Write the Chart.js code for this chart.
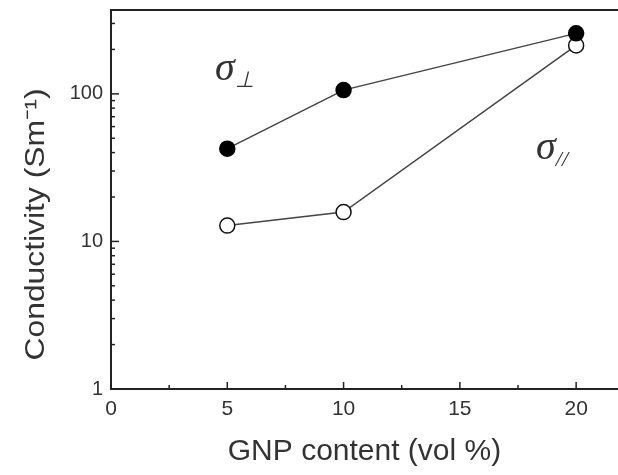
<!DOCTYPE html>
<html>
<head>
<meta charset="utf-8">
<script src="https://cdn.jsdelivr.net/npm/chart.js@4"></script>
<style>
  html, body { margin: 0; padding: 0; background: #fff; overflow: hidden; }
</style>
</head>
<body>
<canvas id="chart" width="618" height="475"></canvas>
<script>
// values
const gnpContent = [5, 10, 20];
const sigmaPerp = [42.5, 106, 257];   // filled circles
const sigmaPar = [12.8, 15.8, 213];   // open circles
const xTicks = [0, 5, 10, 15, 20];
const yTickLabels = [1, 10, 100];
const notes = [
  { x: 4.9, y: 138, main: 'σ', sub: '⊥' },
  { x: 18.7, y: 40, main: 'σ', sub: '//' }
];

const sans = '"Liberation Sans", Arial, sans-serif';
const ink = '#222';

// inward tick marks, top frame line, sigma labels and y title
const decorPlugin = {
  id: 'decor',
  afterDraw(chart) {
    const ctx = chart.ctx;
    const area = chart.chartArea;
    const xs = chart.scales.x;
    const ys = chart.scales.y;
    ctx.save();
    ctx.strokeStyle = ink;
    ctx.lineWidth = 2;
    ctx.beginPath();
    ctx.moveTo(area.left - 1, area.top);
    ctx.lineTo(area.right, area.top);
    ctx.stroke();

    ctx.lineWidth = 1.5;
    ys.ticks.forEach(t => {
      const v = t.value;
      const exp = Math.floor(Math.log10(v) + 1e-9);
      const sig = v / Math.pow(10, exp);
      if (Math.abs(sig - Math.round(sig)) > 1e-6) return;
      const y = ys.getPixelForValue(v);
      const len = Math.round(sig) === 1 ? 8 : 4;
      ctx.beginPath();
      ctx.moveTo(area.left, y);
      ctx.lineTo(area.left + len, y);
      ctx.stroke();
    });
    xTicks.forEach(v => {
      let x = xs.getPixelForValue(v);
      ctx.beginPath();
      ctx.moveTo(x, area.bottom);
      ctx.lineTo(x, area.bottom - 7);
      ctx.stroke();
      x = xs.getPixelForValue(v + 2.5);
      if (x < area.right) {
        ctx.beginPath();
        ctx.moveTo(x, area.bottom);
        ctx.lineTo(x, area.bottom - 4);
        ctx.stroke();
      }
    });

    ctx.fillStyle = '#333';
    notes.forEach(n => {
      const x = xs.getPixelForValue(n.x);
      const y = ys.getPixelForValue(n.y);
      ctx.font = 'italic 40px "Liberation Serif", serif';
      ctx.textAlign = 'center';
      ctx.textBaseline = 'middle';
      ctx.fillText(n.main, x, y - 4);
      const w = ctx.measureText(n.main).width;
      ctx.font = 'italic 22px "Liberation Serif", serif';
      ctx.textAlign = 'left';
      ctx.fillText(n.sub, x + w / 2, y + 8);
    });

    // y axis title, stretched to the length seen in the figure
    const title = 'Conductivity (Sm\u207B\u00B9)';
    ctx.font = '28px ' + sans;
    const tw = ctx.measureText(title).width;
    ctx.translate(area.left - 75, (area.top + area.bottom) / 2 + 25);
    ctx.rotate(-Math.PI / 2);
    ctx.scale(272 / tw, 1);
    ctx.textAlign = 'center';
    ctx.textBaseline = 'middle';
    ctx.fillText(title, 0, 0);
    ctx.restore();
  }
};

new Chart(document.getElementById('chart'), {
  type: 'line',
  data: {
    datasets: [
      {
        label: 'σ⊥',
        data: gnpContent.map((x, i) => ({ x, y: sigmaPerp[i] })),
        borderColor: '#444',
        borderWidth: 1.5,
        pointRadius: 7.5,
        pointBackgroundColor: '#000',
        pointBorderColor: '#000',
        pointBorderWidth: 1.5
      },
      {
        label: 'σ∥',
        data: gnpContent.map((x, i) => ({ x, y: sigmaPar[i] })),
        borderColor: '#444',
        borderWidth: 1.5,
        pointRadius: 7.5,
        pointBackgroundColor: '#fff',
        pointBorderColor: '#111',
        pointBorderWidth: 1.5
      }
    ]
  },
  options: {
    responsive: false,
    animation: false,
    layout: { autoPadding: false, padding: { top: 10, right: 0, bottom: 0, left: 0 } },
    plugins: {
      legend: { display: false },
      tooltip: { enabled: false }
    },
    scales: {
      x: {
        type: 'linear',
        min: 0,
        max: 21.8,
        afterBuildTicks: scale => { scale.ticks = xTicks.map(v => ({ value: v })); },
        afterFit: scale => {
          scale.height = 86;
          scale.paddingLeft = 0;
          scale.paddingRight = 0;
        },
        ticks: {
          font: { family: sans, size: 21 },
          color: '#333',
          padding: 8,
          maxRotation: 0
        },
        grid: { display: false, drawTicks: false },
        border: { color: ink, width: 2 },
        title: {
          display: true,
          text: 'GNP content (vol %)',
          font: { family: sans, size: 30 },
          color: '#333',
          padding: { top: 0, bottom: 5 }
        }
      },
      y: {
        type: 'logarithmic',
        min: 1,
        max: 370,
        afterFit: scale => {
          scale.width = 111;
          scale.paddingTop = 0;
          scale.paddingBottom = 0;
        },
        ticks: {
          autoSkip: false,
          font: { family: sans, size: 20 },
          color: '#333',
          padding: 8,
          callback: v => yTickLabels.includes(v) ? String(v) : ''
        },
        grid: { display: false, drawTicks: false },
        border: { color: ink, width: 2 }
      }
    }
  },
  plugins: [decorPlugin]
});
</script>
</body>
</html>
